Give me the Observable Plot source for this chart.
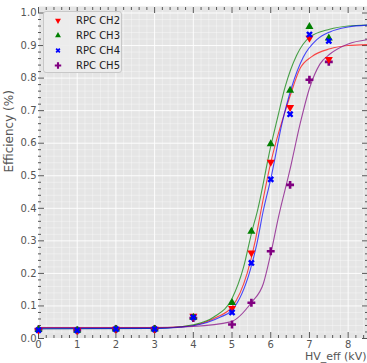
<!DOCTYPE html>
<html>
<head>
<meta charset="utf-8">
<script src="https://cdn.jsdelivr.net/npm/d3@7"></script>
<script src="https://cdn.jsdelivr.net/npm/@observablehq/plot@0.6"></script>
<style>
  html, body { margin: 0; padding: 0; background: #ffffff; }
  #wrap { position: relative; width: 367px; height: 363px; font-family: "DejaVu Sans", sans-serif; }
  #wrap svg.plot { position: absolute; left: 0; top: 0; }
  #legend { position: absolute; left: 43px; top: 11px; width: 79px; height: 62px;
            background: rgba(236,236,236,0.9); border: 1px solid #c8c8c8; border-radius: 3px; box-sizing: border-box; }
  .row { position: absolute; left: 0; height: 15px; display: flex; align-items: center; font-size: 10px; color: #222; }
  .row svg { width: 24px; height: 15px; margin-left: 2px; }
  .row span { margin-left: 6px; }
</style>
</head>
<body>
<div id="wrap"></div>
<script>
// ---- data ----
const channels = ["RPC CH2", "RPC CH3", "RPC CH4", "RPC CH5"];
const colors = ["red", "green", "blue", "purple"];
const hv = [0, 1, 2, 3, 4, 5, 5.5, 6, 6.5, 7, 7.5];
const effCH2 = [0.026, 0.025, 0.029, 0.029, 0.069, 0.093, 0.263, 0.542, 0.710, 0.923, 0.858];
const effCH3 = [0.027, 0.025, 0.029, 0.029, 0.065, 0.110, 0.329, 0.598, 0.762, 0.958, 0.923];
const effCH4 = [0.026, 0.025, 0.029, 0.029, 0.065, 0.080, 0.232, 0.489, 0.689, 0.934, 0.914];
const effCH5 = [0.028, 0.025, 0.029, 0.029, 0.063, 0.043, 0.110, 0.268, 0.472, 0.795, 0.850];

// fitted curves
const fitCH2x = [0, 3, 3.67, 4, 4.61, 5.0, 5.39, 5.6, 5.75, 6.0, 6.35, 6.5, 6.76, 7.06, 7.53, 8.0, 8.5];
const fitCH2y = [0.033, 0.033, 0.036, 0.040, 0.066, 0.097, 0.200, 0.300, 0.394, 0.540, 0.690, 0.745, 0.830, 0.866, 0.890, 0.900, 0.903];
const fitCH3x = [0, 3, 3.67, 4, 4.53, 5.0, 5.3, 5.51, 5.66, 6.0, 6.16, 6.37, 6.67, 7.0, 7.52, 8.0, 8.5];
const fitCH3y = [0.030, 0.031, 0.036, 0.042, 0.066, 0.123, 0.220, 0.327, 0.394, 0.590, 0.670, 0.772, 0.870, 0.925, 0.950, 0.960, 0.963];
const fitCH4x = [0, 3, 3.67, 4, 4.7, 5.0, 5.47, 5.64, 5.81, 6.0, 6.29, 6.54, 6.84, 7.19, 7.53, 8.0, 8.5];
const fitCH4y = [0.030, 0.031, 0.035, 0.039, 0.066, 0.087, 0.210, 0.290, 0.394, 0.490, 0.660, 0.772, 0.864, 0.918, 0.942, 0.957, 0.963];
const fitCH5x = [0, 3, 4, 4.96, 5.51, 5.81, 6.0, 6.2, 6.5, 6.76, 7.01, 7.27, 7.53, 8.0, 8.5];
const fitCH5y = [0.034, 0.034, 0.037, 0.051, 0.112, 0.169, 0.260, 0.373, 0.520, 0.660, 0.772, 0.843, 0.874, 0.905, 0.918];

const xTicks = [0, 1, 2, 3, 4, 5, 6, 7, 8];
const yTicks = [0.0, 0.1, 0.2, 0.3, 0.4, 0.5, 0.6, 0.7, 0.8, 0.9, 1.0];
const xLabel = "HV_eff (kV)";
const yLabel = "Efficiency (%)";

// ---- build tables ----
const effs = [effCH2, effCH3, effCH4, effCH5];
const fitsX = [fitCH2x, fitCH3x, fitCH4x, fitCH5x];
const fitsY = [fitCH2y, fitCH3y, fitCH4y, fitCH5y];
const points = [];
effs.forEach((arr, i) => arr.forEach((v, j) => points.push({ch: channels[i], x: hv[j], y: v})));
const curves = [];
fitsX.forEach((xs, i) => xs.forEach((x, j) => curves.push({ch: channels[i], x, y: fitsY[i][j]})));

const symbols = ["triangle", "triangle", "cross", "cross"];
const rotations = [180, 0, 45, 0];
const sizes = [2.2, 2.2, 2.2, 2.7];
const idx = c => channels.indexOf(c);

const xMinor = d3.range(0, 8.5, 0.2).filter(v => Math.abs(v - Math.round(v)) > 1e-6);
const yMinor = d3.range(0, 1.02, 0.02).filter(v => Math.abs(v * 10 - Math.round(v * 10)) > 1e-6);

const tickColor = "#555555";

const chart = Plot.plot({
  width: 367,
  height: 363,
  marginLeft: 38,
  marginRight: 0,
  marginTop: 6,
  marginBottom: 25,
  style: {background: "transparent", fontFamily: "DejaVu Sans, sans-serif", overflow: "visible"},
  x: {domain: [0, 8.5]},
  y: {domain: [0, 1.02]},
  color: {domain: channels, range: colors},
  marks: [
    Plot.frame({fill: "#e5e5e5", stroke: null}),
    Plot.gridX(xMinor, {stroke: "white", strokeOpacity: 0.35, strokeWidth: 1}),
    Plot.gridY(yMinor, {stroke: "white", strokeOpacity: 0.35, strokeWidth: 1}),
    Plot.gridX(xTicks, {stroke: "white", strokeOpacity: 0.9, strokeWidth: 1}),
    Plot.gridY(yTicks, {stroke: "white", strokeOpacity: 0.9, strokeWidth: 1}),
    // inward ticks on all four sides
    Plot.axisX(xTicks, {anchor: "bottom", tickSize: -6, tickFormat: () => "", color: tickColor, label: null}),
    Plot.axisX(xMinor, {anchor: "bottom", tickSize: -3, tickFormat: () => "", color: tickColor, label: null}),
    Plot.axisX(xTicks, {anchor: "top", tickSize: -6, tickFormat: () => "", color: tickColor, label: null}),
    Plot.axisX(xMinor, {anchor: "top", tickSize: -3, tickFormat: () => "", color: tickColor, label: null}),
    Plot.axisY(yTicks, {anchor: "left", tickSize: -6, tickFormat: () => "", color: tickColor, label: null}),
    Plot.axisY(yMinor, {anchor: "left", tickSize: -3, tickFormat: () => "", color: tickColor, label: null}),
    Plot.axisY(yTicks, {anchor: "right", tickSize: -6, tickFormat: () => "", color: tickColor, label: null}),
    Plot.axisY(yMinor, {anchor: "right", tickSize: -3, tickFormat: () => "", color: tickColor, label: null}),
    // tick labels
    Plot.axisX(xTicks, {anchor: "bottom", tickSize: 0, tickPadding: 2, fontSize: 10, color: tickColor, tickFormat: d => String(d), label: null}),
    Plot.axisY(yTicks, {anchor: "left", tickSize: 0, tickPadding: 2, fontSize: 10, color: tickColor, tickFormat: d3.format(".1f"), label: null}),
    // axis titles
    Plot.text([yLabel], {frameAnchor: "left", dx: -29, rotate: -90, text: d => d, fontSize: 12, fill: tickColor}),
    Plot.text([xLabel], {frameAnchor: "bottom-right", dx: -1, dy: 18, textAnchor: "end", lineAnchor: "middle", text: d => d, fontSize: 11, fill: tickColor}),
    // fit curves
    Plot.line(curves, {x: "x", y: "y", z: "ch", stroke: "ch", strokeOpacity: 0.7, strokeWidth: 1.1, curve: "monotone-x", clip: true}),
    // data points
    Plot.dot(points, {
      x: "x", y: "y", fill: "ch", stroke: null,
      symbol: d => symbols[idx(d.ch)],
      rotate: d => rotations[idx(d.ch)],
      r: d => sizes[idx(d.ch)]
    })
  ]
});
chart.setAttribute("class", (chart.getAttribute("class") || "") + " plot");
document.getElementById("wrap").appendChild(chart);

// legend
const legend = document.createElement("div");
legend.id = "legend";
channels.forEach((c, i) => {
  const row = document.createElement("div");
  row.className = "row";
  row.style.top = (1 + i * 15) + "px";
  const area = Math.PI * sizes[i] * sizes[i];
  const type = symbols[i] === "triangle" ? d3.symbolTriangle : d3.symbolCross;
  const path = d3.symbol(type, area)();
  row.innerHTML = `<svg viewBox="-12 -7.5 24 15"><path d="${path}" fill="${colors[i]}" transform="rotate(${rotations[i]})"/></svg><span>${c}</span>`;
  legend.appendChild(row);
});
document.getElementById("wrap").appendChild(legend);
</script>
</body>
</html>
